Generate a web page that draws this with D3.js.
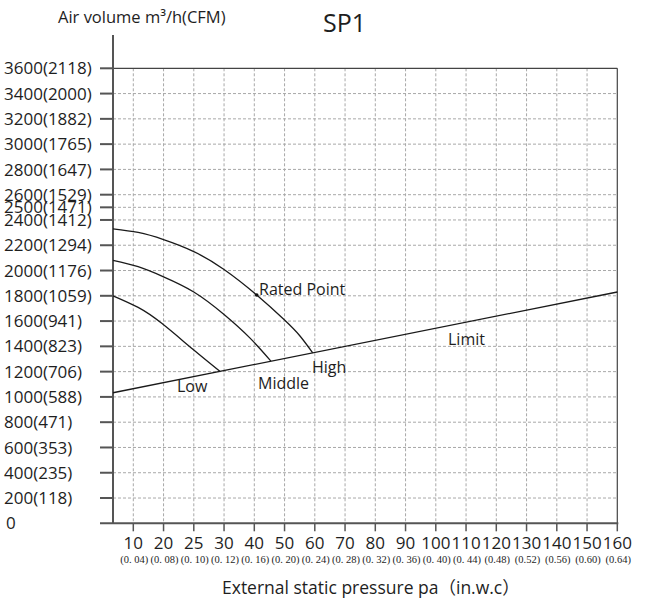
<!DOCTYPE html>
<html>
<head>
<meta charset="utf-8">
<script src="https://cdn.jsdelivr.net/npm/d3@7"></script>
<style>
  html, body { margin: 0; padding: 0; background: #fff; }
  svg { display: block; }
  text { font-family: "Open Sans", "Noto Sans CJK SC", sans-serif; fill: #1e1e1e; }
</style>
</head>
<body>
<svg id="chart" width="658" height="606"></svg>
<script>
// Pressure ticks (Pa) and their in.w.c. equivalents
const pressureTicks = [10, 20, 25, 30, 40, 50, 60, 70, 80, 90, 100, 110, 120, 130, 140, 150, 160];
const inwcLabels = ["(0. 04)", "(0. 08)", "(0. 10)", "(0. 12)", "(0. 16)", "(0. 20)", "(0. 24)", "(0. 28)",
  "(0. 32)", "(0. 36)", "(0. 40)", "(0. 44)", "(0.48)", "(0.52)", "(0.56)", "(0.60)", "(0.64)"];

// Air volume ticks (m³/h) and CFM equivalents
const airTicks = [200, 400, 600, 800, 1000, 1200, 1400, 1600, 1800, 2000, 2200, 2400, 2500, 2600, 2800, 3000, 3200, 3400, 3600];
const cfmLabels = [118, 235, 353, 471, 588, 706, 823, 941, 1059, 1176, 1294, 1412, 1471, 1529, 1647, 1765, 1882, 2000, 2118];

// Fan curves: pressure (Pa) and air volume (m³/h)
const highPressure = [0, 11.6, 20, 25, 30, 40.8, 50, 55.1, 59.3];
const highAir = [2330, 2301, 2245, 2150, 2008, 1806, 1608, 1482, 1349];
const middlePressure = [0, 11.6, 20, 25, 30, 38.6, 45.5];
const middleAir = [2080, 2030, 1950, 1830, 1652, 1465, 1283];
const lowPressure = [0, 11.6, 19.4, 24.9, 29.3];
const lowAir = [1800, 1708, 1582, 1375, 1203];
const limitPressure = [0, 160];
const limitAir = [1033, 1830];
const ratedPoint = { pressure: 40.8, air: 1806 };

(function draw() {
  const svg = d3.select("#chart");

  const plotLeft = 113, plotRight = 617.3, plotTop = 68.3, plotBottom = 523.3;
  const firstTick = 133.3;
  const step = (plotRight - firstTick) / (pressureTicks.length - 1);

  // The pressure axis is evenly spaced per tick, so the scale is piecewise linear
  const x = d3.scaleLinear()
    .domain([0, ...pressureTicks])
    .range([plotLeft, ...pressureTicks.map((d, i) => firstTick + i * step)]);

  const y = d3.scaleLinear().domain([0, 3600]).range([plotBottom, plotTop]);

  // Grid
  const grid = svg.append("g").attr("stroke", "#a8a8a8").attr("stroke-width", 1).attr("stroke-dasharray", "3,2");
  grid.selectAll("line.h").data(airTicks.filter(d => d < 3600)).join("line")
    .attr("class", "h")
    .attr("x1", plotLeft).attr("x2", plotRight)
    .attr("y1", d => y(d)).attr("y2", d => y(d));
  grid.selectAll("line.v").data(pressureTicks.filter(d => d < 160)).join("line")
    .attr("class", "v")
    .attr("y1", plotTop).attr("y2", plotBottom)
    .attr("x1", d => x(d)).attr("x2", d => x(d));

  // Frame: top and right border
  svg.append("line").attr("x1", plotLeft).attr("x2", plotRight).attr("y1", y(3600)).attr("y2", y(3600))
    .attr("stroke", "#444").attr("stroke-width", 1.2);
  svg.append("line").attr("x1", x(160)).attr("x2", x(160)).attr("y1", plotTop).attr("y2", plotBottom)
    .attr("stroke", "#444").attr("stroke-width", 1.2);

  // Axes
  svg.append("line").attr("x1", plotLeft).attr("x2", plotLeft).attr("y1", 35).attr("y2", plotBottom)
    .attr("stroke", "#555").attr("stroke-width", 2);
  svg.append("line").attr("x1", 100).attr("x2", plotRight + 1).attr("y1", plotBottom).attr("y2", plotBottom)
    .attr("stroke", "#555").attr("stroke-width", 2);

  // Y ticks and labels
  svg.append("g").selectAll("line").data(airTicks).join("line")
    .attr("x1", 100).attr("x2", plotLeft)
    .attr("y1", d => y(d)).attr("y2", d => y(d))
    .attr("stroke", "#555").attr("stroke-width", 2);
  svg.append("g").selectAll("text").data(airTicks).join("text")
    .attr("x", 4).attr("y", d => y(d))
    .attr("dy", "0.36em")
    .attr("font-size", 17)
    .text((d, i) => `${d}(${cfmLabels[i]})`);
  svg.append("text").attr("x", 6).attr("y", y(0)).attr("dy", "0.36em").attr("font-size", 17).text("0");

  // X ticks and labels
  svg.append("g").selectAll("line").data(pressureTicks).join("line")
    .attr("x1", d => x(d)).attr("x2", d => x(d))
    .attr("y1", plotBottom).attr("y2", plotBottom + 8)
    .attr("stroke", "#555").attr("stroke-width", 1.5);
  svg.append("g").selectAll("text").data(pressureTicks).join("text")
    .attr("x", d => x(d)).attr("y", 549)
    .attr("text-anchor", "middle")
    .attr("font-size", 17)
    .text(d => d);
  svg.append("g").selectAll("text").data(pressureTicks).join("text")
    .attr("x", d => x(d) + 1).attr("y", 563)
    .attr("text-anchor", "middle")
    .attr("font-size", 10.5)
    .style("font-family", "'Liberation Serif', serif")
    .text((d, i) => inwcLabels[i]);

  // Curves
  const line = d3.line().x(d => x(d[0])).y(d => y(d[1])).curve(d3.curveNatural);
  const series = [
    [highPressure, highAir],
    [middlePressure, middleAir],
    [lowPressure, lowAir],
    [limitPressure, limitAir]
  ];
  svg.append("g").selectAll("path").data(series).join("path")
    .attr("d", s => line(s[0].map((p, i) => [p, s[1][i]])))
    .attr("fill", "none").attr("stroke", "#1a1a1a").attr("stroke-width", 1.3);

  svg.append("circle").attr("cx", x(ratedPoint.pressure)).attr("cy", y(ratedPoint.air)).attr("r", 1.8).attr("fill", "#111");

  // Curve labels
  const labels = [
    { t: "Rated Point", x: 259, y: 295 },
    { t: "High", x: 312, y: 373 },
    { t: "Middle", x: 258, y: 389 },
    { t: "Low", x: 177, y: 392 },
    { t: "Limit", x: 448, y: 345 }
  ];
  svg.append("g").selectAll("text").data(labels).join("text")
    .attr("x", d => d.x).attr("y", d => d.y)
    .attr("font-size", 16)
    .text(d => d.t);

  // Titles
  svg.append("text").attr("x", 58).attr("y", 23).attr("font-size", 16.5).text("Air volume m³/h(CFM)");
  svg.append("text").attr("x", 323).attr("y", 32).attr("font-size", 25).text("SP1");
  svg.append("text").attr("x", 222).attr("y", 594).attr("font-size", 17.5).text("External static pressure pa（in.w.c）");
})();
</script>
</body>
</html>
